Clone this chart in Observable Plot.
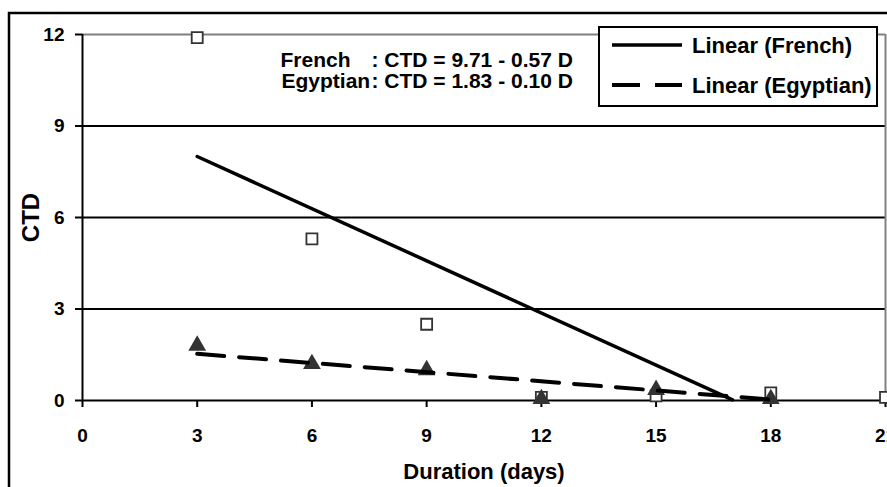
<!DOCTYPE html>
<html><head><meta charset="utf-8">
<script src="https://cdn.jsdelivr.net/npm/d3@7"></script>
<script src="https://cdn.jsdelivr.net/npm/@observablehq/plot@0.6"></script>
<style>html,body{margin:0;padding:0;background:#fff;overflow:hidden}</style>
</head><body><div id="chart"></div>
<script>
// ---- data ----
const durations = [3, 6, 9, 12, 15, 18, 21];
const frenchCTD = [11.9, 5.3, 2.5, 0.1, 0.15, 0.25, 0.1];
const egyptDurations = [3, 6, 9, 12, 15, 18];
const egyptianCTD = [1.8, 1.2, 1.0, 0.05, 0.35, 0.05];
const frenchTrendD = [3, 17];
const frenchTrendCTD = [8.0, 0.02];
const egyptTrendD = [3, 18.3];
const egyptTrendCTD = [1.53, 0];
const xTicks = [0, 3, 6, 9, 12, 15, 18, 21];
const yTicks = [0, 3, 6, 9, 12];
const gridValues = [3, 6, 9];
const eqNames = ["French", "Egyptian"];
const eqFormulas = [": CTD = 9.71 - 0.57 D", ": CTD = 1.83 - 0.10 D"];
const legendLabels = ["Linear (French)", "Linear (Egyptian)"];
const xLabel = "Duration (days)";
const yLabel = "CTD";

const french = durations.map((d, i) => ({d, v: frenchCTD[i]}));
const egypt = egyptDurations.map((d, i) => ({d, v: egyptianCTD[i]}));
const frenchTrend = frenchTrendD.map((d, i) => ({d, v: frenchTrendCTD[i]}));
const egyptTrend = egyptTrendD.map((d, i) => ({d, v: egyptTrendCTD[i]}));

const font = "'Liberation Sans', Arial, sans-serif";
const T = d => d;

const plot = Plot.plot({
  width: 887, height: 487,
  marginLeft: 82, marginRight: 2, marginTop: 34, marginBottom: 87,
  x: {domain: [0, 21]},
  y: {domain: [0, 12]},
  style: {fontFamily: font, fontWeight: "bold", fontSize: "19px", color: "#000", background: "#fff", overflow: "visible"},
  marks: [
    Plot.ruleY(gridValues, {stroke: "#000", strokeWidth: 2}),
    Plot.ruleY([12], {stroke: "#808080", strokeWidth: 2}),
    Plot.ruleX([21], {stroke: "#808080", strokeWidth: 2}),
    Plot.axisY({ticks: yTicks, tickSize: 7, tickPadding: 11, strokeWidth: 2, fontSize: 19, fontWeight: "bold", label: null}),
    Plot.axisX({ticks: xTicks, tickSize: 7, tickPadding: 21, strokeWidth: 2, fontSize: 19, fontWeight: "bold", label: null}),
    Plot.ruleX([0], {stroke: "#000", strokeWidth: 2}),
    Plot.ruleY([0], {stroke: "#000", strokeWidth: 2}),
    Plot.dot(french, {x: "d", y: "v", symbol: "square", r: 6.2, stroke: "#333", strokeWidth: 1.8, fill: "#fff"}),
    Plot.dot(egypt, {x: "d", y: "v", symbol: "triangle", r: 6.6, fill: "#333", stroke: "none"}),
    Plot.line(frenchTrend, {x: "d", y: "v", stroke: "#000", strokeWidth: 3.5}),
    Plot.line(egyptTrend, {x: "d", y: "v", stroke: "#000", strokeWidth: 4, strokeDasharray: "27,15"}),
    Plot.text([yLabel], {text: T, frameAnchor: "left", dx: -51, rotate: -90, fontSize: 24, textAnchor: "middle", lineAnchor: "middle"}),
    Plot.text([xLabel], {text: T, frameAnchor: "bottom", dy: 78, fontSize: 22, textAnchor: "middle", lineAnchor: "bottom"}),
    Plot.text([eqNames[0]], {text: T, frameAnchor: "top-left", dx: 198, dy: 32, fontSize: 21, textAnchor: "start", lineAnchor: "bottom"}),
    Plot.text([eqNames[1]], {text: T, frameAnchor: "top-left", dx: 199, dy: 53, fontSize: 21, textAnchor: "start", lineAnchor: "bottom"}),
    Plot.text([eqFormulas[0]], {text: T, frameAnchor: "top-left", dx: 289, dy: 32, fontSize: 21, textAnchor: "start", lineAnchor: "bottom"}),
    Plot.text([eqFormulas[1]], {text: T, frameAnchor: "top-left", dx: 289, dy: 53, fontSize: 21, textAnchor: "start", lineAnchor: "bottom"})
  ]
});

document.getElementById("chart").appendChild(plot);

// outer chart frame and legend
const svg = d3.select(plot);
svg.append("path").attr("d", "M9,487V13H887").attr("fill", "none").attr("stroke", "#000").attr("stroke-width", 2.5);
const lg = svg.append("g").attr("text-anchor", "start");
lg.append("rect").attr("x", 599).attr("y", 27).attr("width", 278).attr("height", 79)
  .attr("fill", "#fff").attr("stroke", "#000").attr("stroke-width", 2);
const rows = [{y: 45, dash: null}, {y: 85, dash: "28,15"}];
rows.forEach((r, i) => {
  const l = lg.append("line").attr("x1", 612).attr("x2", 682).attr("y1", r.y).attr("y2", r.y)
    .attr("stroke", "#000").attr("stroke-width", i ? 4 : 3.5);
  if (r.dash) l.attr("stroke-dasharray", r.dash);
  lg.append("text").attr("x", 692).attr("y", r.y).attr("dy", "0.35em")
    .attr("text-anchor", "start")
    .attr("font-family", font).attr("font-weight", "bold").attr("font-size", 22)
    .attr("fill", "#000").text(legendLabels[i]);
});
</script>
</body></html>
